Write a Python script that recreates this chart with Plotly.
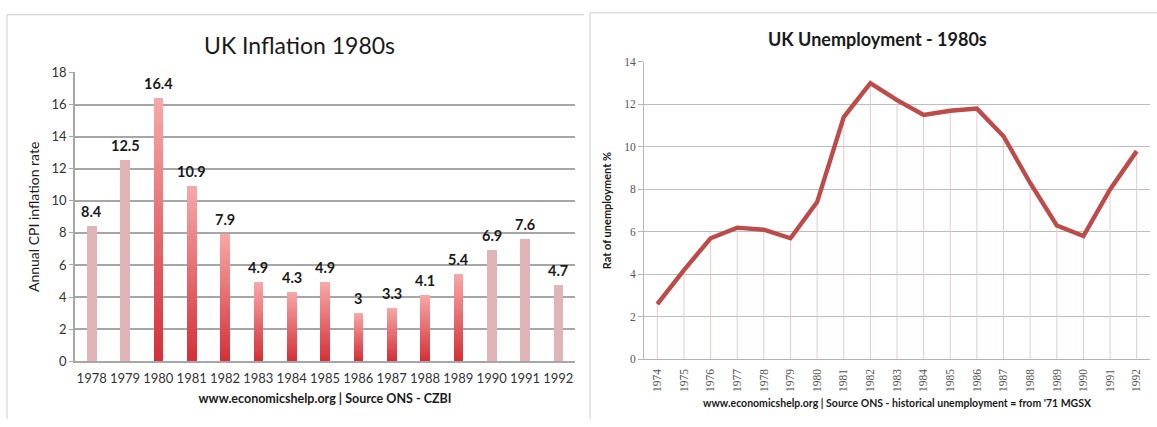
import plotly.graph_objects as go

W, H = 1157, 427

# ---------------- data ----------------
infl_years = ["1978", "1979", "1980", "1981", "1982", "1983", "1984", "1985",
              "1986", "1987", "1988", "1989", "1990", "1991", "1992"]
infl_values = [8.4, 12.5, 16.4, 10.9, 7.9, 4.9, 4.3, 4.9, 3, 3.3, 4.1, 5.4, 6.9, 7.6, 4.7]
infl_highlight = [False, False, True, True, True, True, True, True, True, True, True, True,
                  False, False, False]

unemp_years = ["1974", "1975", "1976", "1977", "1978", "1979", "1980", "1981", "1982", "1983",
               "1984", "1985", "1986", "1987", "1988", "1989", "1990", "1991", "1992"]
unemp_values = [2.6, 4.2, 5.7, 6.2, 6.1, 5.7, 7.4, 11.4, 13.0, 12.2, 11.5, 11.7, 11.8,
                10.5, 8.3, 6.3, 5.8, 8.0, 9.8]

infl_ticks = [0, 2, 4, 6, 8, 10, 12, 14, 16, 18]
unemp_ticks = [0, 2, 4, 6, 8, 10, 12, 14]


def px(x):
    return x / W


def py(y):
    return 1 - y / H


fig = go.Figure()

# ---- left: light bars ----
light_vals = [v if not h else 0 for v, h in zip(infl_values, infl_highlight)]
fig.add_trace(go.Bar(x=infl_years, y=light_vals, width=0.29,
                     marker=dict(color="#e1b5b7", line=dict(width=0)),
                     xaxis="x", yaxis="y", showlegend=False, hoverinfo="skip"))

# ---- left: gradient bars (overlaid, tallest/lightest first) ----
N = 40
c_bot = (212, 48, 55)
c_top = (248, 168, 168)
for k in range(N - 1, -1, -1):
    t = (k + 0.5) / N
    col = tuple(int(round(c_bot[i] + (c_top[i] - c_bot[i]) * t)) for i in range(3))
    seg = [v * (k + 1) / N if h else 0 for v, h in zip(infl_values, infl_highlight)]
    fig.add_trace(go.Bar(x=infl_years, y=seg, width=0.29,
                         marker=dict(color="rgb(%d,%d,%d)" % col, line=dict(width=0)),
                         xaxis="x", yaxis="y", showlegend=False, hoverinfo="skip"))

# ---- value labels ----
annotations = []
for i, v in enumerate(infl_values):
    annotations.append(dict(x=i, y=v, xref="x", yref="y", text=("%g" % v), showarrow=False,
                            xanchor="center", yanchor="middle", yshift=15,
                            font=dict(family="Lato", size=14.5, color="#1a1a1a", weight="bold")))

# ---- right: drop lines ----
fig.add_trace(go.Scatter(x=unemp_years, y=unemp_values, mode="markers",
                         marker=dict(size=1, color="rgba(0,0,0,0)"),
                         error_y=dict(type="data", symmetric=False, array=[0] * len(unemp_values),
                                      arrayminus=unemp_values, thickness=1, width=0, color="#e8c9cd"),
                         xaxis="x2", yaxis="y2", showlegend=False, hoverinfo="skip"))
# ---- right: line ----
fig.add_trace(go.Scatter(x=unemp_years, y=unemp_values, mode="lines",
                         line=dict(color="#bd4b4a", width=4.4),
                         xaxis="x2", yaxis="y2", showlegend=False))

# titles
annotations.append(dict(x=px(299), y=py(38), xref="paper", yref="paper", text="UK Inflation 1980s",
                        showarrow=False, xanchor="center", yanchor="middle",
                        font=dict(family="Lato", size=23, color="#1a1a1a")))
annotations.append(dict(x=px(877), y=py(32), xref="paper", yref="paper", text="UK Unemployment - 1980s",
                        showarrow=False, xanchor="center", yanchor="middle",
                        font=dict(family="Lato", size=18, color="#1a1a1a", weight="bold")))

shapes = [
    # left frame
    dict(type="line", xref="paper", yref="paper", x0=px(7), x1=px(584), y0=py(7), y1=py(7),
         line=dict(color="#cccccc", width=1)),
    dict(type="line", xref="paper", yref="paper", x0=px(7), x1=px(7), y0=py(7), y1=py(427),
         line=dict(color="#cccccc", width=1)),
    # right frame
    dict(type="line", xref="paper", yref="paper", x0=px(590), x1=px(1157), y0=py(5), y1=py(5),
         line=dict(color="#cccccc", width=1)),
    dict(type="line", xref="paper", yref="paper", x0=px(590), x1=px(590), y0=py(5), y1=py(427),
         line=dict(color="#cccccc", width=1)),
]

fig.update_layout(
    width=W, height=H, margin=dict(l=0, r=0, t=0, b=0),
    paper_bgcolor="white", plot_bgcolor="white",
    barmode="overlay", bargap=0,
    annotations=annotations, shapes=shapes,
    xaxis=dict(domain=[px(75), px(575)], type="category", range=[-0.5, 14.5],
               showgrid=False, showline=True, linecolor="#a6a6a6", linewidth=1.5,
               ticks="outside", ticklen=4, tickcolor="rgba(0,0,0,0)",
               tickfont=dict(family="Lato", size=13, color="#333333"),
               title=dict(text="www.economicshelp.org | Source ONS - CZBI",
                          font=dict(family="Lato", size=12.5, color="#1a1a1a", weight="bold"),
                          standoff=10),
               anchor="y", fixedrange=True),
    yaxis=dict(domain=[py(367), py(67)], range=[0, 18], tickvals=infl_ticks,
               showgrid=True, gridcolor="#a6a6a6", gridwidth=1.5,
               showline=True, linecolor="#a6a6a6", linewidth=1.5,
               ticks="outside", ticklen=4, tickcolor="#a6a6a6",
               tickfont=dict(family="Lato", size=13, color="#333333"),
               title=dict(text="Annual CPI inflation rate",
                          font=dict(family="Lato", size=14, color="#1a1a1a"), standoff=9),
               zeroline=False, anchor="x", fixedrange=True),
    xaxis2=dict(domain=[px(644), px(1150)], type="category", range=[-0.5, 18.5],
                showgrid=False, showline=True, linecolor="#b5b5b5", linewidth=1,
                ticks="outside", ticklen=4, tickcolor="rgba(0,0,0,0)", tickangle=-90,
                tickfont=dict(family="Liberation Serif", size=11.5, color="#555555"),
                title=dict(text="www.economicshelp.org | Source ONS - historical unemployment = from '71 MGSX",
                           font=dict(family="Lato", size=10.5, color="#1a1a1a", weight="bold"),
                           standoff=8),
                anchor="y2", fixedrange=True),
    yaxis2=dict(domain=[py(365), py(56)], range=[0, 14], tickvals=unemp_ticks,
                showgrid=True, gridcolor="#bdbdbd", gridwidth=1,
                showline=True, linecolor="#b5b5b5", linewidth=1,
                ticks="outside", ticklen=5, tickcolor="#b5b5b5",
                tickfont=dict(family="Liberation Serif", size=11.5, color="#555555"),
                title=dict(text="Rat of unemployment %",
                           font=dict(family="Lato", size=11, color="#1a1a1a", weight="bold"), standoff=10),
                zeroline=False, anchor="x2", fixedrange=True),
)

fig.write_html("out.html")
